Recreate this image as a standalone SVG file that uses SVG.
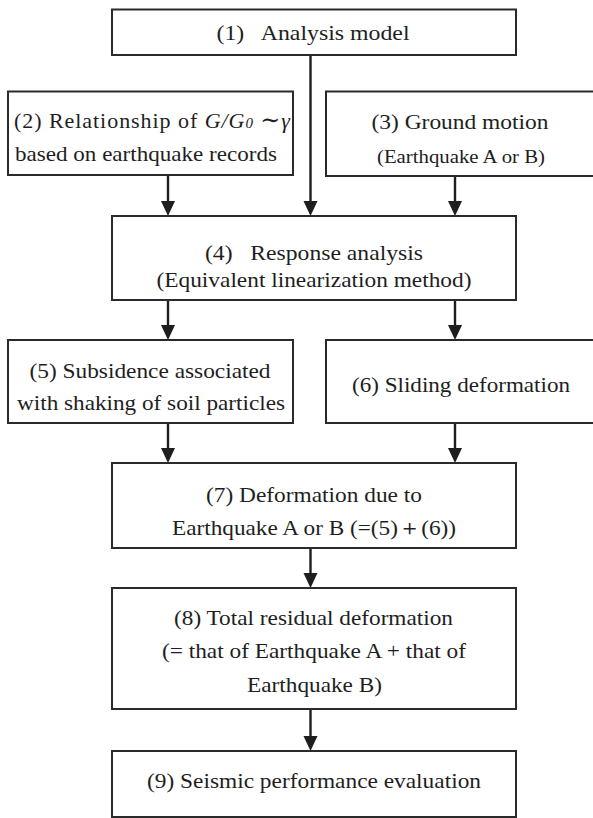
<svg xmlns="http://www.w3.org/2000/svg" width="593" height="818" viewBox="0 0 593 818">
<style>
.box{fill:#fff;stroke:#2a2a2a;stroke-width:2}
.t{font-size:22px;fill:#1e1e1e;text-anchor:middle}
.s{font-size:18px}
.c{stroke:#1e1e1e;stroke-width:2.4;fill:none}
.h{fill:#1e1e1e}
</style>
<rect width="593" height="818" fill="#fff"/>
<g id="connectors">
<line class="c" x1="310.5" y1="55" x2="310.5" y2="202"/>
<path class="h" d="M303.5,201 L317.5,201 L310.5,216 Z"/>
<line class="c" x1="168" y1="175" x2="168" y2="202"/>
<path class="h" d="M161,201 L175,201 L168,216 Z"/>
<line class="c" x1="455" y1="176" x2="455" y2="202"/>
<path class="h" d="M448,201 L462,201 L455,216 Z"/>
<line class="c" x1="168" y1="300" x2="168" y2="326"/>
<path class="h" d="M161,325 L175,325 L168,340 Z"/>
<line class="c" x1="455" y1="300" x2="455" y2="326"/>
<path class="h" d="M448,325 L462,325 L455,340 Z"/>
<line class="c" x1="168" y1="423" x2="168" y2="449"/>
<path class="h" d="M161,448 L175,448 L168,463 Z"/>
<line class="c" x1="455" y1="423" x2="455" y2="449"/>
<path class="h" d="M448,448 L462,448 L455,463 Z"/>
<line class="c" x1="310.5" y1="548" x2="310.5" y2="574"/>
<path class="h" d="M303.5,573 L317.5,573 L310.5,588 Z"/>
<line class="c" x1="310.5" y1="709" x2="310.5" y2="737"/>
<path class="h" d="M303.5,736 L317.5,736 L310.5,751 Z"/>
</g>
<g font-family="Liberation Serif, Times New Roman, DejaVu Serif, serif">
<g id="n1">
<rect class="box" x="112" y="9.5" width="404" height="45.5"/>
<text class="t" x="313" y="40" xml:space="preserve" textLength="193" lengthAdjust="spacingAndGlyphs">(1)   Analysis model</text>
</g>
<g id="n2">
<rect class="box" x="8" y="91.5" width="285" height="83.5"/>
<text class="t" x="14" y="128" style="text-anchor:start" textLength="276" lengthAdjust="spacing">(2) Relationship of <tspan font-style="italic">G</tspan><tspan font-style="italic">/G</tspan><tspan font-style="italic" font-size="15px">0</tspan> <tspan font-size="24px">∼</tspan><tspan font-style="italic">γ</tspan></text>
<text class="t" x="146" y="161" textLength="262" lengthAdjust="spacingAndGlyphs">based on earthquake records</text>
</g>
<g id="n3">
<rect class="box" x="326" y="91.5" width="280" height="84.5"/>
<text class="t" x="460" y="129" textLength="177" lengthAdjust="spacingAndGlyphs">(3) Ground motion</text>
<text class="t s" x="461" y="163" textLength="168" lengthAdjust="spacingAndGlyphs">(Earthquake A or B)</text>
</g>
<g id="n4">
<rect class="box" x="112" y="216" width="404" height="84"/>
<text class="t" x="314" y="260" xml:space="preserve" textLength="218" lengthAdjust="spacingAndGlyphs">(4)   Response analysis</text>
<text class="t" x="314" y="287" textLength="315" lengthAdjust="spacingAndGlyphs">(Equivalent linearization method)</text>
</g>
<g id="n5">
<rect class="box" x="8" y="340" width="285" height="83"/>
<text class="t" x="150" y="378" textLength="241" lengthAdjust="spacingAndGlyphs">(5) Subsidence associated</text>
<text class="t" x="151" y="410" textLength="268" lengthAdjust="spacingAndGlyphs">with shaking of soil particles</text>
</g>
<g id="n6">
<rect class="box" x="326" y="340" width="280" height="83"/>
<text class="t" x="461" y="392" textLength="218" lengthAdjust="spacingAndGlyphs">(6) Sliding deformation</text>
</g>
<g id="n7">
<rect class="box" x="112" y="463" width="404" height="85"/>
<text class="t" x="314" y="502" textLength="216" lengthAdjust="spacingAndGlyphs">(7) Deformation due to</text>
<text class="t" x="314" y="535" textLength="284" lengthAdjust="spacingAndGlyphs">Earthquake A or B (=(5)＋(6))</text>
</g>
<g id="n8">
<rect class="box" x="112" y="588" width="404" height="121"/>
<text class="t" x="313.5" y="625" textLength="279" lengthAdjust="spacingAndGlyphs">(8) Total residual deformation</text>
<text class="t" x="314" y="658" textLength="304" lengthAdjust="spacingAndGlyphs">(= that of Earthquake A + that of</text>
<text class="t" x="314.5" y="692" textLength="135" lengthAdjust="spacingAndGlyphs">Earthquake B)</text>
</g>
<g id="n9">
<rect class="box" x="112" y="751" width="404" height="66"/>
<text class="t" x="314" y="788" textLength="334" lengthAdjust="spacingAndGlyphs">(9) Seismic performance evaluation</text>
</g>
</g>
</svg>
